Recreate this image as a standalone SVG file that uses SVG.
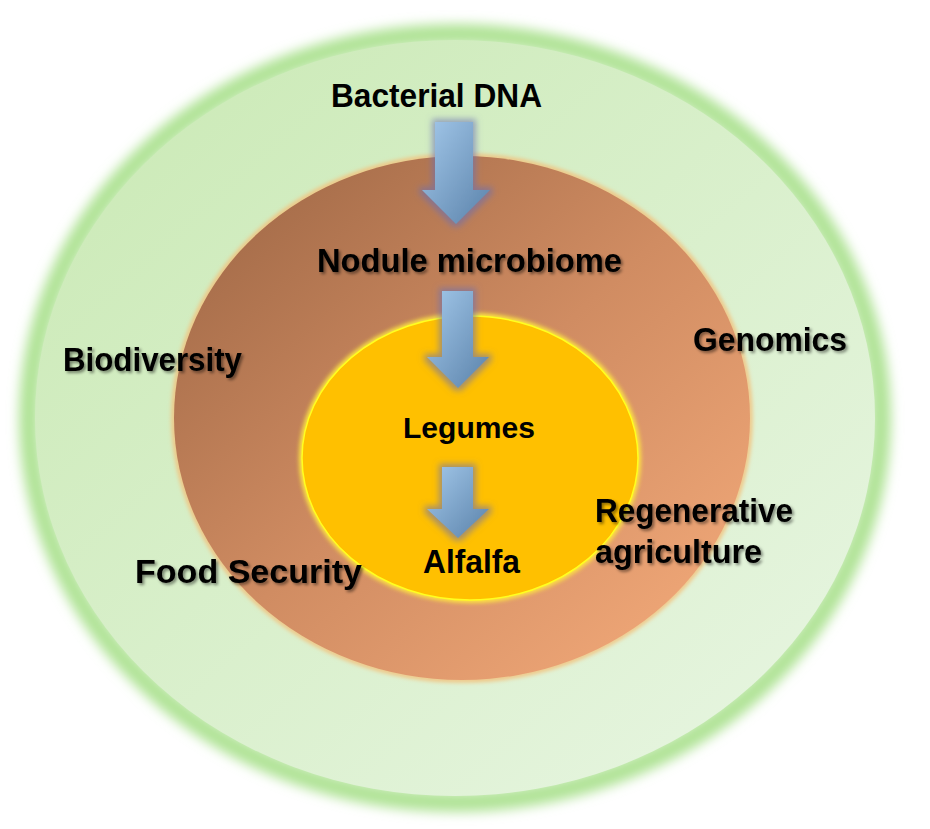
<svg xmlns="http://www.w3.org/2000/svg" width="930" height="829" viewBox="0 0 930 829">
  <defs>
    <linearGradient id="gOuter" x1="0" y1="0" x2="1" y2="1">
      <stop offset="0" stop-color="#c9e9b3"/>
      <stop offset="1" stop-color="#e9f6e4"/>
    </linearGradient>
    <linearGradient id="gMid" x1="0" y1="0" x2="1" y2="1">
      <stop offset="0" stop-color="#9a6443"/>
      <stop offset="0.5" stop-color="#d08c62"/>
      <stop offset="1" stop-color="#f7ad7c"/>
    </linearGradient>
    <linearGradient id="gArrow" x1="0" y1="0" x2="1" y2="1">
      <stop offset="0" stop-color="#a3c8ea"/>
      <stop offset="1" stop-color="#5a82aa"/>
    </linearGradient>
    <filter id="blurBig" x="-20%" y="-20%" width="140%" height="140%">
      <feGaussianBlur stdDeviation="6"/>
    </filter>
    <filter id="blurSmall" x="-10%" y="-10%" width="120%" height="120%">
      <feGaussianBlur stdDeviation="2"/>
    </filter>
    <filter id="arrowGlow" x="-50%" y="-50%" width="200%" height="200%">
      <feMorphology in="SourceAlpha" operator="dilate" radius="3" result="d"/>
      <feGaussianBlur in="d" stdDeviation="3" result="b"/>
      <feFlood flood-color="#6a6fb4" flood-opacity="0.6"/>
      <feComposite in2="b" operator="in" result="g"/>
      <feMerge>
        <feMergeNode in="g"/>
        <feMergeNode in="SourceGraphic"/>
      </feMerge>
    </filter>
    <filter id="txtShadow" x="-10%" y="-30%" width="120%" height="160%">
      <feDropShadow dx="2" dy="2" stdDeviation="1.5" flood-color="#000" flood-opacity="0.45"/>
    </filter>
  </defs>
  <style>
    .lbl { font-family: "Liberation Sans", Arial, sans-serif; font-weight: bold; font-size: 33px; fill: #000; }
    .sh { filter: url(#txtShadow); }
  </style>
  <rect width="930" height="829" fill="#ffffff"/>

  <g id="outer-ring">
    <ellipse cx="455" cy="418" rx="426" ry="384" fill="none" stroke="#b0e396" stroke-width="20" filter="url(#blurBig)"/>
    <ellipse cx="455" cy="418" rx="420" ry="378" fill="url(#gOuter)"/>
  </g>

  <g id="middle-ring">
    <ellipse cx="462" cy="418" rx="288" ry="262" fill="none" stroke="#f2c27e" stroke-width="5" filter="url(#blurSmall)"/>
    <ellipse cx="462" cy="418" rx="288" ry="262" fill="url(#gMid)"/>
  </g>

  <g id="inner-ring">
    <ellipse cx="470" cy="458" rx="168" ry="142" fill="none" stroke="#ffe640" stroke-width="6" filter="url(#blurSmall)"/>
    <ellipse cx="470" cy="458" rx="168" ry="142" fill="#ffc000" stroke="#ffff20" stroke-width="1.5"/>
  </g>

  <g id="connectors">
    <g filter="url(#arrowGlow)">
      <path d="M435,122 H473 V190 H490 L456,224 L422,190 H435 Z" fill="url(#gArrow)"/>
      <path d="M442,291 H473 V357 H489 L458,388 L427,357 H442 Z" fill="url(#gArrow)"/>
      <path d="M442,467 H473 V509 H489 L458,538 L427,509 H442 Z" fill="url(#gArrow)"/>
    </g>
  </g>

  <g id="node-bacterial-dna">
    <text class="lbl" x="331" y="107" textLength="211" lengthAdjust="spacingAndGlyphs">Bacterial DNA</text>
  </g>
  <g id="node-nodule-microbiome">
    <text class="lbl sh" x="317" y="272" textLength="305" lengthAdjust="spacingAndGlyphs">Nodule microbiome</text>
  </g>
  <g id="node-legumes">
    <text class="lbl" x="403" y="438" style="font-size:30px" textLength="132" lengthAdjust="spacingAndGlyphs">Legumes</text>
  </g>
  <g id="node-alfalfa">
    <text class="lbl" x="423" y="573" textLength="97" lengthAdjust="spacingAndGlyphs">Alfalfa</text>
  </g>
  <g id="node-biodiversity">
    <text class="lbl sh" x="63" y="371" textLength="179" lengthAdjust="spacingAndGlyphs">Biodiversity</text>
  </g>
  <g id="node-genomics">
    <text class="lbl sh" x="693" y="351" textLength="154" lengthAdjust="spacingAndGlyphs">Genomics</text>
  </g>
  <g id="node-food-security">
    <text class="lbl sh" x="135" y="583" textLength="227" lengthAdjust="spacingAndGlyphs">Food Security</text>
  </g>
  <g id="node-regenerative-agriculture">
    <text class="lbl sh" x="595" y="522" textLength="198" lengthAdjust="spacingAndGlyphs">Regenerative</text>
    <text class="lbl sh" x="595" y="563" textLength="167" lengthAdjust="spacingAndGlyphs">agriculture</text>
  </g>
</svg>
